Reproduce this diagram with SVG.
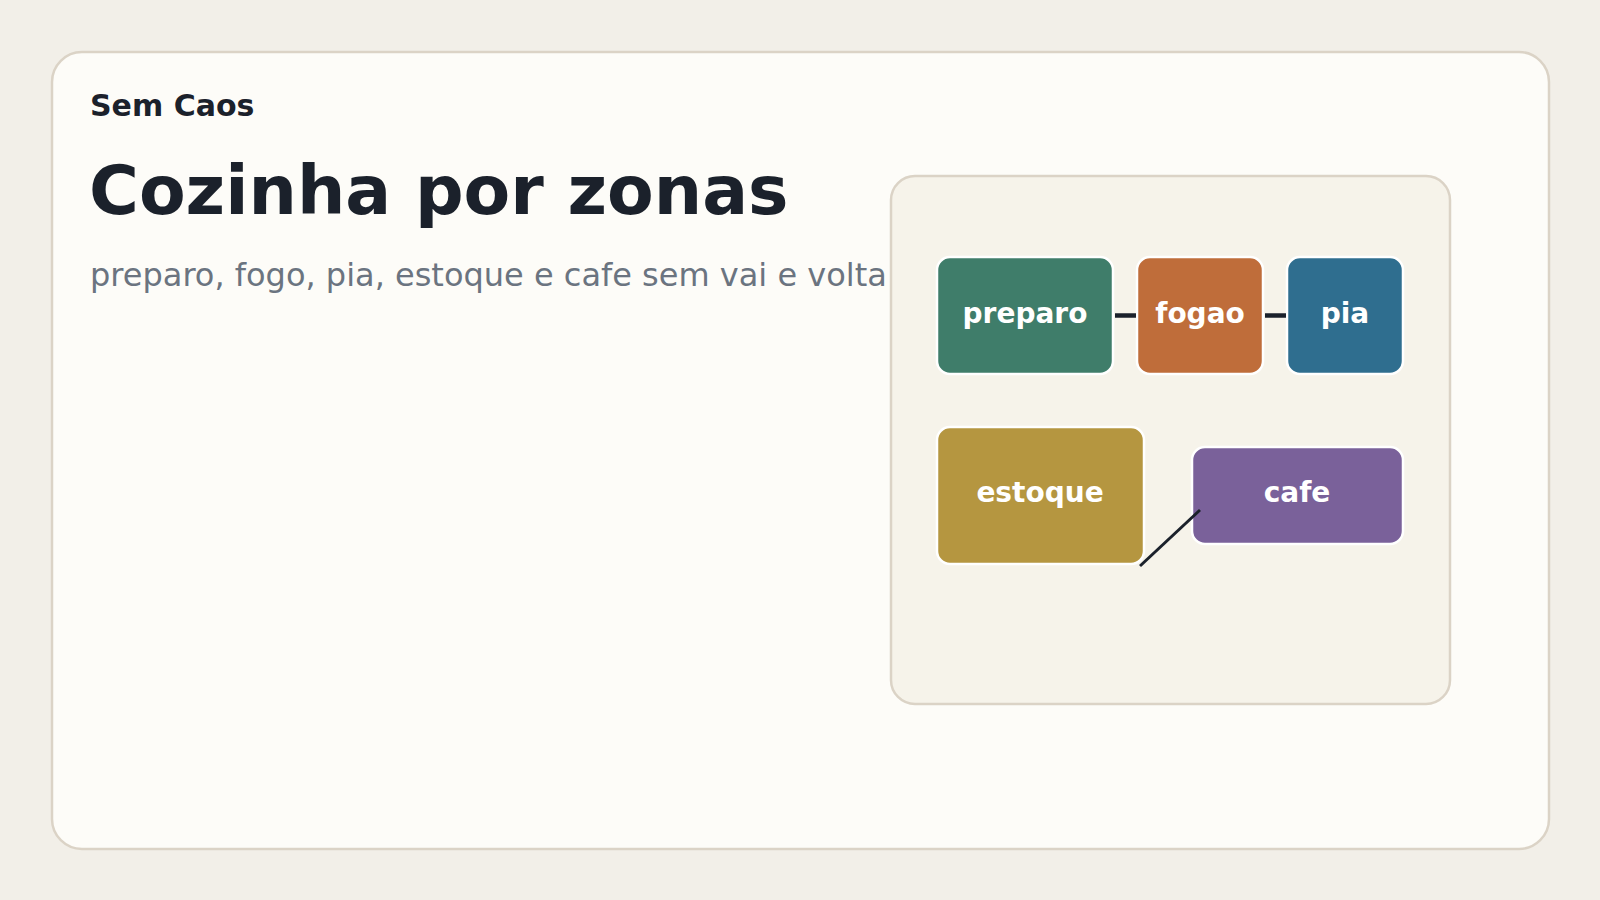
<svg xmlns="http://www.w3.org/2000/svg" width="1600" height="900" viewBox="0 0 1600 900">
<style>
.lbl{font-family:"DejaVu Sans","Liberation Sans",sans-serif;font-weight:bold;font-size:28px;fill:#ffffff;text-anchor:middle}
.node{stroke:#ffffff;stroke-width:2.5}
.conn{stroke:#1b212b;fill:none;stroke-linecap:butt}
</style>
<rect x="0" y="0" width="1600" height="900" fill="#f2efe8"/>
<rect x="52" y="52" width="1497" height="797" rx="30" fill="#fdfcf8" stroke="#dbd3c6" stroke-width="2.5"/>
<text x="90" y="116" font-family="DejaVu Sans, sans-serif" font-weight="bold" font-size="30" fill="#1b212b">Sem Caos</text>
<text x="89" y="214" font-family="DejaVu Sans, sans-serif" font-weight="bold" font-size="68" fill="#1b212b">Cozinha por zonas</text>
<text x="90" y="286" font-family="DejaVu Sans, sans-serif" font-size="32" fill="#6b7480">preparo, fogo, pia, estoque e cafe sem vai e volta</text>
<rect id="panel" x="891" y="176" width="559" height="528" rx="24" fill="#f6f3ea" stroke="#dbd3c6" stroke-width="2.5"/>
<g id="node-preparo"><rect class="node" x="937" y="257" width="176" height="117" rx="13" fill="#3f7d6a"/><text class="lbl" x="1025" y="323">preparo</text></g>
<g id="node-fogao"><rect class="node" x="1137" y="257" width="126" height="117" rx="13" fill="#bf6d3a"/><text class="lbl" x="1200" y="323">fogao</text></g>
<g id="node-pia"><rect class="node" x="1287" y="257" width="116" height="117" rx="13" fill="#2f6e8f"/><text class="lbl" x="1345" y="323">pia</text></g>
<g id="node-estoque"><rect class="node" x="937" y="427" width="207" height="137" rx="13" fill="#b59640"/><text class="lbl" x="1040" y="502">estoque</text></g>
<g id="node-cafe"><rect class="node" x="1192" y="447" width="211" height="97" rx="13" fill="#7a619a"/><text class="lbl" x="1297" y="502">cafe</text></g>
<g id="connectors">
<line class="conn" x1="1115" y1="315.5" x2="1136" y2="315.5" stroke-width="4.5"/>
<line class="conn" x1="1265" y1="315.5" x2="1286" y2="315.5" stroke-width="4.5"/>
<line class="conn" x1="1140" y1="566" x2="1200" y2="510" stroke-width="3"/>
</g>
</svg>
